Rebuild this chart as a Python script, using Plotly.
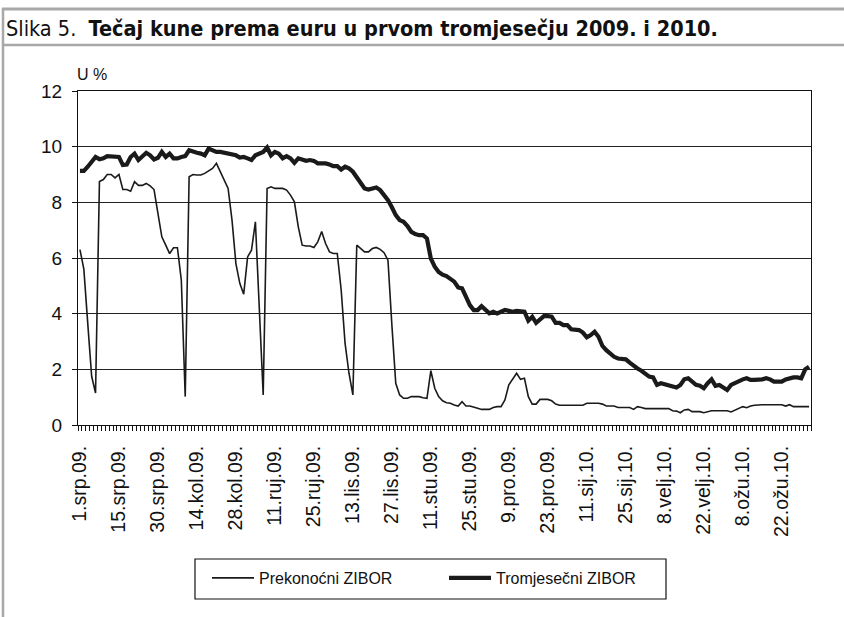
import plotly.graph_objects as go

# ---- data ----
tick_labels = ["1.srp.09.", "15.srp.09.", "30.srp.09.", "14.kol.09.", "28.kol.09.",
               "11.ruj.09.", "25.ruj.09.", "13.lis.09.", "27.lis.09.", "11.stu.09.",
               "25.stu.09.", "9.pro.09.", "23.pro.09.", "11.sij.10.", "25.sij.10.",
               "8.velj.10.", "22.velj.10.", "8.ožu.10.", "22.ožu.10."]

prekonocni = [
    6.3, 5.6, 3.65, 1.75, 1.15, 8.75, 8.82, 9.0, 9.0, 8.88, 9.0, 8.46, 8.46, 8.4, 8.74, 8.61,
    8.61, 8.68, 8.59, 8.46, 7.6, 6.76, 6.46, 6.16, 6.37, 6.37, 5.2, 1.02, 8.92, 9.0, 8.98,
    8.98, 9.04, 9.12, 9.22, 9.4, 9.1, 8.82, 8.5, 7.36, 5.8, 5.09, 4.7, 6.04, 6.28, 7.3, 4.4,
    1.08, 8.5, 8.56, 8.5, 8.5, 8.5, 8.44, 8.26, 8.02, 7.12, 6.46, 6.43, 6.43, 6.38, 6.58, 6.95,
    6.52, 6.22, 6.16, 6.16, 4.85, 2.93, 1.86, 1.08, 6.46, 6.34, 6.22, 6.22, 6.34, 6.38, 6.31,
    6.19, 5.92, 3.6, 1.5, 1.08, 0.96, 0.96, 1.02, 1.02, 1.02, 0.98, 0.96, 1.95, 1.32, 1.02, 0.87,
    0.8, 0.78, 0.72, 0.68, 0.84, 0.68, 0.68, 0.63, 0.6, 0.56, 0.56, 0.56, 0.63, 0.66, 0.66, 0.9,
    1.44, 1.64, 1.86, 1.64, 1.68, 1.02, 0.75, 0.75, 0.92, 0.92, 0.92, 0.87, 0.75, 0.71, 0.71,
    0.71, 0.71, 0.71, 0.71, 0.71, 0.78, 0.78, 0.78, 0.78, 0.75, 0.68, 0.68, 0.68, 0.63, 0.63,
    0.63, 0.63, 0.56, 0.66, 0.63, 0.59, 0.59, 0.59, 0.59, 0.59, 0.59, 0.59, 0.51, 0.5, 0.44, 0.54,
    0.56, 0.48, 0.48, 0.48, 0.44, 0.48, 0.51, 0.51, 0.51, 0.51, 0.51, 0.47, 0.54, 0.6, 0.66, 0.62,
    0.68, 0.71, 0.73, 0.73, 0.73, 0.73, 0.73, 0.73, 0.73, 0.68, 0.73, 0.66, 0.66, 0.66, 0.66, 0.66,
]

tromjesecni = [
    9.13, 9.13, 9.28, 9.46, 9.63, 9.55, 9.58, 9.66, 9.66, 9.66, 9.63, 9.34, 9.36, 9.63, 9.75, 9.52,
    9.63, 9.78, 9.69, 9.54, 9.6, 9.81, 9.63, 9.75, 9.58, 9.58, 9.63, 9.66, 9.87, 9.81, 9.78,
    9.75, 9.69, 9.93, 9.85, 9.81, 9.81, 9.78, 9.78, 9.73, 9.69, 9.61, 9.63, 9.58, 9.52, 9.69, 9.75,
    9.81, 9.97, 9.69, 9.81, 9.75, 9.58, 9.66, 9.58, 9.42, 9.58, 9.54, 9.49, 9.52, 9.49, 9.4, 9.4,
    9.4, 9.36, 9.3, 9.3, 9.18, 9.28, 9.22, 9.1, 8.92, 8.74, 8.5, 8.46, 8.5, 8.53, 8.44, 8.26,
    8.08, 7.82, 7.54, 7.36, 7.3, 7.15, 6.94, 6.86, 6.82, 6.82, 6.7, 5.98, 5.69, 5.5, 5.4,
    5.35, 5.27, 5.15, 4.94, 4.91, 4.61, 4.31, 4.13, 4.13, 4.27, 4.13, 4.01, 4.07, 4.01, 4.07, 4.13,
    4.1, 4.07, 4.1, 4.1, 4.07, 3.75, 3.89, 3.67, 3.79, 3.91, 3.91, 3.89, 3.67, 3.67, 3.59,
    3.59, 3.44, 3.41, 3.41, 3.32, 3.15, 3.23, 3.35, 3.17, 2.84, 2.69, 2.55, 2.45, 2.39, 2.36, 2.36,
    2.24, 2.12, 2.03, 1.95, 1.83, 1.74, 1.71, 1.44, 1.5, 1.47, 1.44, 1.38, 1.35, 1.44, 1.64,
    1.68, 1.56, 1.44, 1.41, 1.32, 1.5, 1.64, 1.41, 1.44, 1.35, 1.26, 1.44, 1.52, 1.56, 1.64, 1.68,
    1.62, 1.62, 1.62, 1.64, 1.68, 1.64, 1.56, 1.56, 1.56, 1.64, 1.68, 1.71, 1.71, 1.68, 2.0, 2.09,
]

series_names = ["Prekonoćni ZIBOR", "Tromjesečni ZIBOR"]

# ---- layout ----
W, H = 844, 617
L, R, T, B = 78, 33, 91, 192
PW, PH = W - L - R, H - T - B


def xp(px):
    return (px - L) / PW


def yp(py):
    return (H - B - py) / PH


n = len(prekonocni)
x = list(range(n))
tickvals = list(range(0, 10 * len(tick_labels), 10))

FONT = "Arial"
NARROW = "DejaVu Sans Condensed"

fig = go.Figure()
fig.add_trace(go.Scatter(x=x, y=prekonocni, mode="lines", name=series_names[0],
                         line=dict(color="#1a1a1a", width=1.6)))
fig.add_trace(go.Scatter(x=x, y=tromjesecni, mode="lines", name=series_names[1],
                         line=dict(color="#1a1a1a", width=4.2)))

frame = "#a8a8a8"
shapes = [
    dict(type="line", xref="paper", yref="paper", x0=xp(2), x1=xp(W), y0=yp(9), y1=yp(9),
         line=dict(color=frame, width=3)),
    dict(type="line", xref="paper", yref="paper", x0=xp(2), x1=xp(W), y0=yp(45), y1=yp(45),
         line=dict(color=frame, width=2.5)),
    dict(type="line", xref="paper", yref="paper", x0=xp(3), x1=xp(3), y0=yp(8), y1=yp(H),
         line=dict(color=frame, width=2.5)),
    # legend frame
    dict(type="rect", xref="paper", yref="paper", x0=xp(195), x1=xp(666), y0=yp(559), y1=yp(599),
         line=dict(color="#111", width=1.2), fillcolor="rgba(0,0,0,0)"),
]

annotations = [
    dict(xref="paper", yref="paper", x=xp(4), y=yp(28), xanchor="left", yanchor="middle",
         text="Slika 5.  <b>Tečaj kune prema euru u prvom tromjesečju 2009. i 2010.</b>",
         showarrow=False, font=dict(family=NARROW, size=21.5, color="#111")),
    dict(xref="paper", yref="paper", x=xp(75), y=yp(74), xanchor="left", yanchor="middle",
         text="U %", showarrow=False, font=dict(family=FONT, size=16, color="#111")),
]

fig.update_layout(
    width=W, height=H,
    margin=dict(l=L, r=R, t=T, b=B, pad=0),
    paper_bgcolor="white", plot_bgcolor="white",
    font=dict(family=FONT, size=17, color="#111"),
    showlegend=True,
    legend=dict(orientation="h", x=xp(207), y=yp(561), xanchor="left", yanchor="top",
                borderwidth=0, bgcolor="rgba(0,0,0,0)",
                font=dict(family=FONT, size=16, color="#111"),
                entrywidth=180, itemwidth=42, tracegroupgap=0),
    shapes=shapes,
    annotations=annotations,
)

fig.update_xaxes(
    range=[-0.5, n - 0.5],
    tickmode="array", tickvals=tickvals, ticktext=tick_labels,
    tickangle=-90, ticks="", ticklen=0, ticklabelstandoff=12,
    tickfont=dict(family=FONT, size=19.5, color="#111"),
    showgrid=False, zeroline=False,
    showline=True, linecolor="#111", linewidth=1.2, mirror=True,
    minor=dict(tickmode="linear", tick0=-0.5, dtick=1, ticks="outside", ticklen=5,
               tickcolor="#111", tickwidth=1, showgrid=False),
)
fig.update_yaxes(
    range=[0, 12], dtick=2, tick0=0,
    ticks="outside", ticklen=5, tickcolor="#111", ticklabelstandoff=6,
    tickfont=dict(family=FONT, size=19, color="#111"),
    showgrid=True, gridcolor="#222", gridwidth=1.2,
    zeroline=False,
    showline=True, linecolor="#111", linewidth=1.2, mirror=True,
)

fig.write_html("out.html", config={"displayModeBar": False},
               post_script="document.body.style.margin='0';document.body.style.padding='0';")
